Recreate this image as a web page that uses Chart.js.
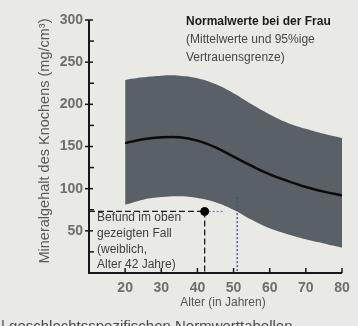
<!DOCTYPE html>
<html>
<head>
<meta charset="utf-8">
<script src="https://cdn.jsdelivr.net/npm/chart.js@4.4.1/dist/chart.umd.min.js"></script>
<style>
  html, body { margin: 0; padding: 0; background: #e9e9e6; }
  #wrap { width: 358px; height: 326px; position: relative; }
</style>
</head>
<body>
<div id="wrap"><canvas id="c" width="358" height="326"></canvas></div>
<script>
// Bone mineral content of women by age: mean and 95% confidence band
const ages        = [20, 25, 30, 35, 40, 45, 50, 55, 60, 65, 70, 75, 80];
const upperBound  = [229, 232, 234, 234, 231, 224, 213, 200, 188, 178, 171, 165, 160];
const meanValues  = [154, 158.5, 161, 161, 157, 149, 138, 127, 117, 109, 102, 96.5, 92];
const lowerBound  = [81, 87, 90, 91, 89, 84, 75, 63, 53, 46, 40, 35, 30];

// The individual finding (female, 42 years)
const caseAge   = [42];
const caseValue = [73];
// Comparison marker on the age axis
const markerAge = [51];
const markerTop = [90];

const xTicks = [20, 30, 40, 50, 60, 70, 80];
const yTicks = [50, 100, 150, 200, 250, 300];

const toPoints = (xs, ys) => xs.map((x, i) => ({ x, y: ys[i] }));

const BAND = '#596066';
const AXIS = '#16161f';
const TICK_TEXT = '#6e6e6e';
const FONT = '"Liberation Sans", Arial, sans-serif';

const axisPlugin = {
  id: 'axisMarks',
  afterDraw(chart) {
    const ctx = chart.ctx;
    const xs = chart.scales.x, ys = chart.scales.y;
    const x0 = xs.getPixelForValue(xs.min);
    const y0 = ys.getPixelForValue(0);
    ctx.save();
    ctx.strokeStyle = AXIS;
    ctx.lineWidth = 2;
    ctx.beginPath();
    ctx.moveTo(x0, ys.getPixelForValue(300));
    ctx.lineTo(x0, y0);
    ctx.lineTo(xs.getPixelForValue(80), y0);
    ctx.stroke();
    ctx.lineWidth = 1.5;
    // y ticks: majors across the axis, minors inside
    for (let v = 25; v <= 300; v += 25) {
      const py = ys.getPixelForValue(v);
      ctx.beginPath();
      if (v % 50 === 0) { ctx.moveTo(x0 - 4, py); ctx.lineTo(x0 + 4, py); }
      else { ctx.moveTo(x0, py); ctx.lineTo(x0 + 5, py); }
      ctx.stroke();
    }
    // x ticks, pointing up into the plot
    xTicks.forEach(a => {
      const px = xs.getPixelForValue(a);
      ctx.beginPath();
      ctx.moveTo(px, y0);
      ctx.lineTo(px, y0 - 5);
      ctx.stroke();
    });

    // Texts
    ctx.textBaseline = 'middle';
    ctx.textAlign = 'left';
    ctx.fillStyle = '#1b1b1b';
    ctx.font = 'bold 12px ' + FONT;
    ctx.fillText('Normalwerte bei der Frau', 186, 22);
    ctx.fillStyle = '#474747';
    ctx.font = '12px ' + FONT;
    ctx.fillText('(Mittelwerte und 95%ige', 186, 40);
    ctx.fillText('Vertrauensgrenze)', 186, 58);

    ctx.fillStyle = '#3f3f3f';
    ctx.font = '12px ' + FONT;
    ctx.fillText('Befund im oben', 97, 218);
    ctx.fillText('gezeigten Fall', 97, 234);
    ctx.fillText('(weiblich,', 97, 250);
    ctx.fillText('Alter 42 Jahre)', 97, 265);

    ctx.fillStyle = '#555555';
    ctx.textAlign = 'center';
    ctx.font = '12px ' + FONT;
    ctx.fillText('Alter (in Jahren)', 223, 303);

    ctx.save();
    ctx.translate(45, 141);
    ctx.rotate(-Math.PI / 2);
    ctx.fillStyle = '#5a5a5a';
    ctx.font = '14.5px ' + FONT;
    ctx.fillText('Mineralgehalt des Knochens (mg/cm³)', 0, 0);
    ctx.restore();

    ctx.textAlign = 'left';
    ctx.textBaseline = 'alphabetic';
    ctx.fillStyle = '#4a4a4a';
    ctx.font = '15px ' + FONT;
    ctx.fillText('| geschlechtsspezifischen Normwerttabellen', 1, 331);
    ctx.restore();
  }
};

new Chart(document.getElementById('c'), {
  type: 'line',
  data: {
    datasets: [
      {
        data: toPoints(ages, upperBound), order: 10,
        borderWidth: 0, pointRadius: 0, fill: false,
        borderColor: BAND, tension: 0.4
      },
      {
        data: toPoints(ages, lowerBound), order: 9,
        borderWidth: 0, pointRadius: 0, fill: '-1',
        backgroundColor: BAND, borderColor: BAND, tension: 0.4
      },
      {
        data: toPoints(ages, meanValues), order: 1,
        borderColor: '#0b0b0b', borderWidth: 2.5, pointRadius: 0, fill: false,
        tension: 0.4
      },
      {
        // horizontal guide from the value axis to the finding
        data: [{ x: 10, y: caseValue[0] }, { x: caseAge[0], y: caseValue[0] }], order: 2,
        borderColor: '#1a1a1a', borderWidth: 1.3, borderDash: [6, 3],
        pointRadius: 0, fill: false, tension: 0
      },
      {
        data: [{ x: caseAge[0], y: caseValue[0] }, { x: caseAge[0] + 5, y: caseValue[0] }], order: 3,
        borderColor: '#7d8596', borderWidth: 1.2, borderDash: [2, 2],
        pointRadius: 0, fill: false, tension: 0
      },
      {
        // vertical guide from the finding down to the age axis
        data: [{ x: caseAge[0], y: caseValue[0] }, { x: caseAge[0], y: 0 }], order: 2,
        borderColor: '#1a1a1a', borderWidth: 1.3, borderDash: [6, 3],
        pointRadius: 0, fill: false, tension: 0
      },
      {
        data: [{ x: markerAge[0], y: markerTop[0] }, { x: markerAge[0], y: 0 }], order: 2,
        borderColor: '#34508f', borderWidth: 1.3, borderDash: [2, 2],
        pointRadius: 0, fill: false, tension: 0
      },
      {
        data: toPoints(caseAge, caseValue), order: 0,
        pointRadius: 4, pointBackgroundColor: '#000', pointBorderColor: '#000',
        showLine: false
      }
    ]
  },
  options: {
    responsive: false,
    animation: false,
    events: [],
    layout: { padding: { left: 0, right: 16, top: 20, bottom: 0 } },
    plugins: { legend: { display: false }, tooltip: { enabled: false } },
    scales: {
      x: {
        type: 'linear', min: 10, max: 80,
        afterFit(s) { s.height = 53; },
        afterBuildTicks(s) { s.ticks = xTicks.map(v => ({ value: v })); },
        grid: { display: false, drawTicks: false },
        border: { display: false },
        ticks: {
          padding: 7, color: TICK_TEXT,
          font: { family: FONT, size: 14, weight: 'bold' }
        }
      },
      y: {
        type: 'linear', min: 0, max: 300,
        afterFit(s) { s.width = 89; },
        afterBuildTicks(s) { s.ticks = yTicks.map(v => ({ value: v })); },
        grid: { display: false, drawTicks: false },
        border: { display: false },
        ticks: {
          padding: 6, color: TICK_TEXT,
          font: { family: FONT, size: 14, weight: 'bold' }
        }
      }
    }
  },
  plugins: [axisPlugin]
});
</script>
</body>
</html>
